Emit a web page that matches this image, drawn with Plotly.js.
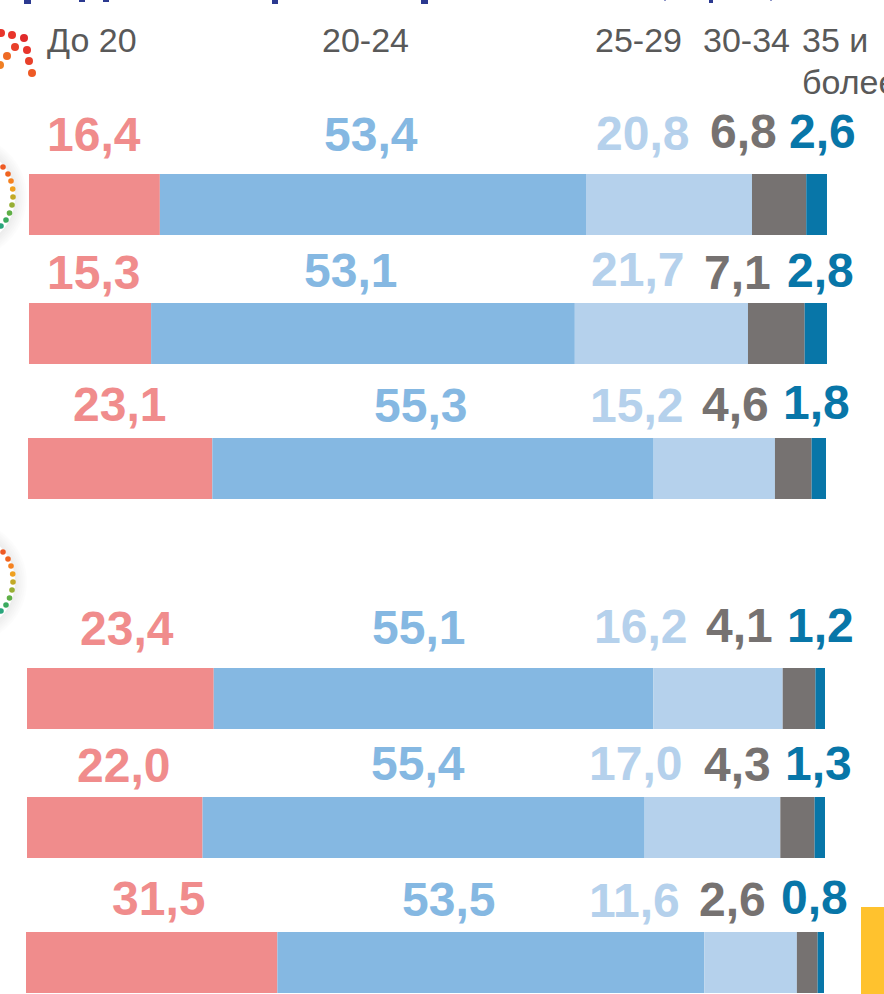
<!DOCTYPE html>
<html>
<head>
<meta charset="utf-8">
<script src="https://cdn.plot.ly/plotly-3.0.1.min.js"></script>
<style>html,body{margin:0;padding:0;background:#fff;overflow:hidden}#c{width:884px;height:994px}</style>
</head>
<body>
<div id="c"></div>
<script>
// Age groups (tick labels of the chart)
const ageGroups = ['До 20', '20-24', '25-29', '30-34', '35 и<br>более'];
// Share of each age group in each of the six rows
const under20 = [16.4, 15.3, 23.1, 23.4, 22.0, 31.5];
const age20to24 = [53.4, 53.1, 55.3, 55.1, 55.4, 53.5];
const age25to29 = [20.8, 21.7, 15.2, 16.2, 17.0, 11.6];
const age30to34 = [6.8, 7.1, 4.6, 4.1, 4.3, 2.6];
const age35plus = [2.6, 2.8, 1.8, 1.2, 1.3, 0.8];

const series = [under20, age20to24, age25to29, age30to34, age35plus];
const colors = ['#F08C8C', '#85B8E2', '#B5D1EC', '#767271', '#0876A8'];

// ---- layout constants (pixels of the 884x994 page) ----
const W = 884, H = 994, pxPerUnit = 7.98, zeroPx = 27;
const rowCenter = [204.5, 333.5, 468.5, 698.5, 827.5, 962.5];
const rowShift = [0.25, 0.25, 0.125, 0, 0, -0.125];
const labelX = [
  [94, 371, 642, 743, 822],
  [93, 350, 637, 737, 820],
  [119, 420, 636, 735, 816],
  [127, 418, 640, 739, 820],
  [123, 418, 635, 737, 818],
  [158, 448, 634, 732, 814]
];
const labelY = [
  [134, 134, 133, 132, 132],
  [272, 270, 269, 272, 270],
  [404, 405, 405, 404, 403],
  [628, 627, 626, 625, 625],
  [765, 763, 763, 764, 763],
  [898, 899, 900, 899, 897]
];
const headerPos = [[45, 40], [320, 40], [593, 40], [701, 40], [800, 40]];

const px = x => x / W, py = y => 1 - y / H;
const fmt = v => v.toFixed(1).replace('.', ',');

// bars: cumulative bases computed from the values
const running = rowShift.slice();
const traces = series.map((vals, i) => {
  const base = running.slice();
  vals.forEach((v, r) => { running[r] += v; });
  return {
    type: 'bar', orientation: 'h', x: vals, y: rowCenter, base: base, width: 61,
    name: ageGroups[i].replace('<br>', ' '),
    marker: {color: colors[i], line: {width: 0}},
    hoverinfo: 'name+x'
  };
});

// value labels
const annotations = [];
series.forEach((vals, i) => vals.forEach((v, r) => {
  annotations.push({
    xref: 'paper', yref: 'paper', x: px(labelX[r][i]), y: py(labelY[r][i]),
    xanchor: 'center', yanchor: 'middle', showarrow: false, text: fmt(v),
    font: {family: '"Liberation Sans", Arial, sans-serif', size: 48, color: colors[i], weight: 700}
  });
}));

// headers
ageGroups.forEach((t, i) => {
  t.split('<br>').forEach((line, k) => {
    annotations.push({
      xref: 'paper', yref: 'paper', x: px(headerPos[i][0]), y: py(headerPos[i][1] + k * 42),
      xanchor: 'left', yanchor: 'middle', showarrow: false, text: line,
      font: {family: '"Liberation Sans", Arial, sans-serif', size: 34, color: '#595959'}
    });
  });
});

// ---- decorations ----
const shapes = [];
const rect = (x0, y0, x1, y1, c) => shapes.push({
  type: 'rect', xref: 'paper', yref: 'paper', layer: 'below',
  x0: px(x0), x1: px(x1), y0: py(y0), y1: py(y1), fillcolor: c, line: {width: 0}
});
const disc = (cx, cy, r, c) => shapes.push({
  type: 'circle', xref: 'paper', yref: 'paper', layer: 'below',
  x0: px(cx - r), x1: px(cx + r), y0: py(cy - r), y1: py(cy + r), fillcolor: c, line: {width: 0}
});

// clipped title fragments at the top edge
[[24, 31, 4], [79, 85, 2], [103, 109, 2], [272, 278, 4], [421, 428, 4], [709, 713, 3]]
  .forEach(f => rect(f[0], 0, f[1], f[2], '#2B3990'));
[[664, 666, 1], [770, 772, 1]].forEach(f => rect(f[0], 0, f[1], f[2], '#8E96C8'));

// yellow block, bottom right
rect(861, 907, 884, 994, '#FFC22E');

// cropped dotted circles with a soft shadow
const ringDots = [
  [3, -30, '#EE5A24'], [8, -23, '#F0641F'], [11, -16, '#F58220'], [12.7, -8, '#EFA01F'],
  [13, 0, '#C2A925'], [12, 8, '#97AE33'], [9.5, 16, '#5FAF46'], [6, 23, '#3BAA5E'], [1, 29, '#2AA57C']
];
[197, 582].forEach(cy => {
  [62, 60, 58, 56, 54, 52].forEach(r => disc(-35, cy, r, 'rgba(0,0,0,0.012)'));
  disc(-35, cy, 50, '#ffffff');
  ringDots.forEach(d => disc(d[0], cy + d[1], 2.8, d[2]));
});

// red dots, top left
[[1, 33, '#E8352B'], [12, 35, '#E8352B'], [24, 38, '#E02A2A'], [15, 47, '#E8402A'], [27, 50, '#E8352B'],
 [7, 56, '#EE6A25'], [29, 61, '#E8402A'], [0, 65, '#F07F24'], [32, 73, '#EE5A25']]
  .forEach(d => disc(d[0], d[1], 4, d[2]));

const layout = {
  width: W, height: H, margin: {l: 0, r: 0, t: 0, b: 0},
  paper_bgcolor: '#fff', plot_bgcolor: 'rgba(0,0,0,0)',
  barmode: 'overlay', showlegend: false,
  xaxis: {range: [-zeroPx / pxPerUnit, (W - zeroPx) / pxPerUnit], visible: false, fixedrange: true},
  yaxis: {range: [H, 0], visible: false, fixedrange: true},
  annotations: annotations, shapes: shapes
};
Plotly.newPlot('c', traces, layout, {displayModeBar: false, staticPlot: true});
</script>
</body>
</html>
